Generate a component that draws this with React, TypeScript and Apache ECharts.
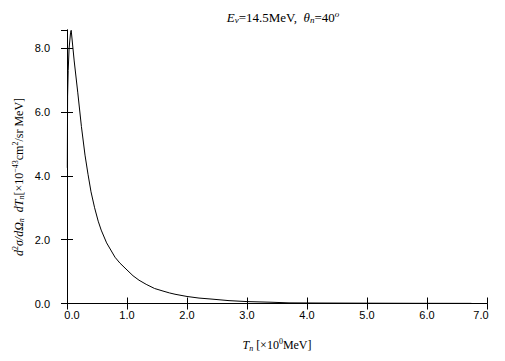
import React, { useEffect, useRef } from "react";
import * as echarts from "echarts";

const energies = [0.005, 0.01, 0.02, 0.035, 0.06, 0.07, 0.12, 0.18, 0.24, 0.3, 0.35, 0.4, 0.46, 0.52, 0.57, 0.66, 0.8, 0.88, 1.0, 1.1, 1.2, 1.32, 1.46, 1.6, 1.71, 1.8, 2.0, 2.2, 2.4, 2.7, 3.0, 3.4, 3.7, 4.2, 5.0, 5.8, 6.74];
const crossSection = [4.25, 6.5, 7.3, 8.0, 8.5, 8.56, 7.6, 6.6, 5.55, 4.65, 4.05, 3.5, 3.0, 2.58, 2.3, 1.9, 1.45, 1.27, 1.05, 0.87, 0.73, 0.6, 0.47, 0.39, 0.33, 0.29, 0.22, 0.17, 0.14, 0.09, 0.06, 0.04, 0.02, 0.015, 0.01, 0.006, 0.004];
const xTickLabels = ["0.0", "1.0", "2.0", "3.0", "4.0", "5.0", "6.0", "7.0"];
const yTickLabels = ["0.0", "2.0", "4.0", "6.0", "8.0"];

const SERIF = "Liberation Serif";
const SANS = "Liberation Sans";

function makeRich(size: number) {
  const base = { fontFamily: SERIF, fontSize: size, color: "#000" };
  const small = Math.round(size * 0.68);
  return {
    n: { ...base },
    i: { ...base, fontStyle: "italic" },
    sub: { ...base, fontSize: small, padding: [6, 0, 0, 0] },
    isub: { ...base, fontSize: small, fontStyle: "italic", padding: [6, 0, 0, 0] },
    sup: { ...base, fontSize: small, padding: [0, 0, 7, 0] },
    isup: { ...base, fontSize: small, fontStyle: "italic", padding: [0, 0, 7, 0] },
  };
}

export default function App() {
  const ref = useRef<HTMLDivElement>(null);
  useEffect(() => {
    document.body.style.margin = "0";
    const chart = echarts.init(ref.current!, null, { renderer: "svg" });
    const rich = makeRich(12);
    const tickAxisCommon = {
      axisLine: { show: true, lineStyle: { color: "#000", width: 1 } },
      axisTick: { show: true, inside: true, length: 6, lineStyle: { color: "#000", width: 1 } },
      splitLine: { show: false },
    };
    chart.setOption({
      animation: false,
      title: {
        text: "{i|E}{isub|ν}{n|=14.5MeV,  }{i|θ}{isub|n}{n|=40}{isup|o}",
        left: 278, top: 4, textAlign: "center",
        textStyle: { rich: makeRich(13), fontFamily: SERIF, fontSize: 13, fontWeight: "normal", color: "#000" },
      },
      grid: { left: 67, right: 18, top: 30, bottom: 57.5, containLabel: false, outerBoundsMode: "none", show: false },
      xAxis: [
        {
          type: "value", min: 0, max: 7, interval: 1, position: "bottom",
          ...tickAxisCommon,
          axisLabel: {
            margin: 6, fontFamily: SANS, fontSize: 11, color: "#000",
            formatter: (v: number) => {
              const idx = Math.round(v);
              const t = xTickLabels[idx] ?? "";
              if (idx === 0) return "{l|" + t + "}";
              if (idx === 7) return "{r|" + t + "}";
              return t;
            },
            rich: {
              l: { fontFamily: SANS, fontSize: 11, color: "#000", padding: [0, 0, 0, 10] },
              r: { fontFamily: SANS, fontSize: 11, color: "#000", padding: [0, 12, 0, 0] },
            },
          },
        },
        {
          type: "value", min: 0, max: 7, interval: 1, position: "top",
          ...tickAxisCommon, axisLabel: { show: false },
        },
      ],
      yAxis: [
        {
          type: "value", min: 0, max: 8.57, interval: 2, position: "left",
          ...tickAxisCommon,
          axisLabel: {
            margin: 17, fontFamily: SANS, fontSize: 11, color: "#000", showMaxLabel: false,
            formatter: (v: number) => {
              const r = v / 2;
              return Math.abs(r - Math.round(r)) < 1e-6 ? yTickLabels[Math.round(r)] ?? "" : "";
            },
          },
        },
        {
          type: "value", min: 0, max: 8.57, interval: 2, position: "right",
          ...tickAxisCommon, axisLabel: { show: false },
        },
      ],
      series: [
        {
          type: "line",
          xAxisIndex: 0, yAxisIndex: 0,
          data: energies.map((e, k) => [e, crossSection[k]]),
          showSymbol: false,
          symbol: "none",
          lineStyle: { color: "#000", width: 1 },
          silent: true,
        },
      ],
      graphic: [
        {
          type: "text", x: 277, y: 345,
          style: {
            text: "{i|T}{isub|n}{n| [×10}{sup|0}{n|MeV]}",
            rich, align: "center", verticalAlign: "middle",
          },
        },
        {
          type: "text", x: 18.5, y: 177, rotation: Math.PI / 2,
          style: {
            text: "{i|d}{sup|2}{i|σ/dΩ}{isub|n}{i|  dT}{isub|n}{n|[×10}{sup|−43}{n|cm}{sup|2}{n|/sr MeV]}",
            rich, align: "center", verticalAlign: "middle",
          },
        },
      ],
    });
    return () => chart.dispose();
  }, []);
  return <div ref={ref} style={{ position: "absolute", left: 0, top: 0, width: 505, height: 361 }} />;
}
